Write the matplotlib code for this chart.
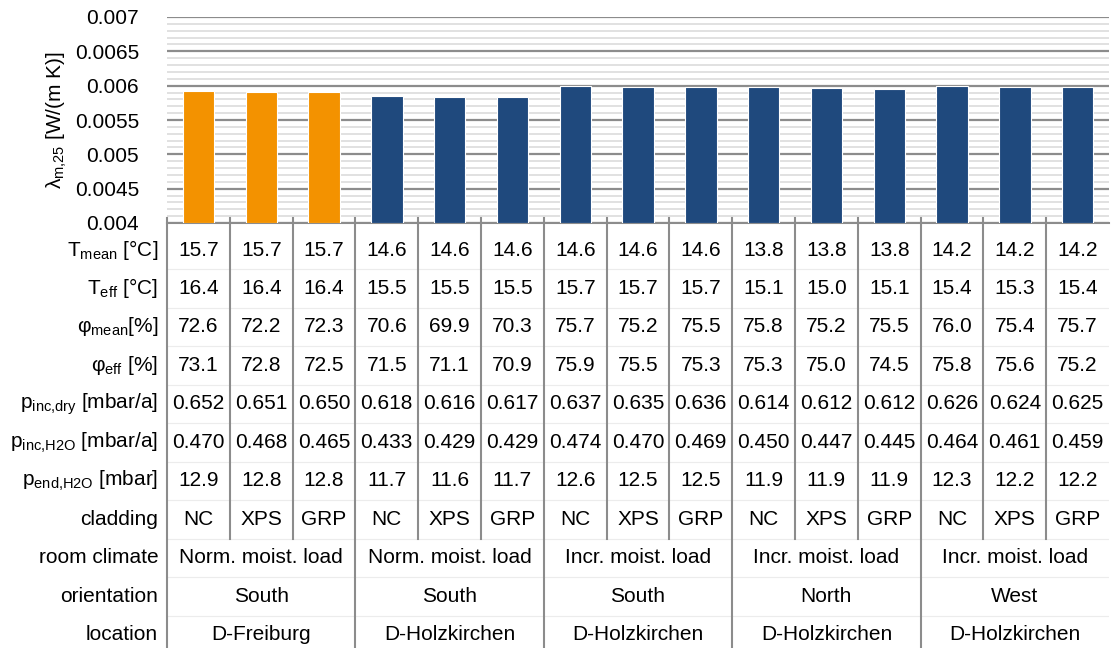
import numpy as np
import matplotlib
matplotlib.use("Agg")
from matplotlib import pyplot as plt

plt.rcParams['font.family'] = ['Liberation Sans', 'DejaVu Sans']
plt.rcParams['mathtext.fontset'] = 'custom'
plt.rcParams['mathtext.rm'] = 'Liberation Sans'
plt.rcParams['mathtext.default'] = 'regular'

# bar heights (lambda_m,25 in W/(m K))
lam = [0.00592, 0.00591, 0.00591, 0.005854, 0.00583, 0.00583, 0.005995, 0.005985, 0.005985,
       0.005976, 0.005966, 0.005952, 0.005995, 0.005985, 0.005985]
highlight = [True, True, True] + [False] * 12

yticks = [0.004, 0.0045, 0.005, 0.0055, 0.006, 0.0065, 0.007]
ytick_labels = ['0.004', '0.0045', '0.005', '0.0055', '0.006', '0.0065', '0.007']

t_mean = ['15.7'] * 3 + ['14.6'] * 6 + ['13.8'] * 3 + ['14.2'] * 3
t_eff = ['16.4', '16.4', '16.4', '15.5', '15.5', '15.5', '15.7', '15.7', '15.7',
         '15.1', '15.0', '15.1', '15.4', '15.3', '15.4']
phi_mean = ['72.6', '72.2', '72.3', '70.6', '69.9', '70.3', '75.7', '75.2', '75.5',
            '75.8', '75.2', '75.5', '76.0', '75.4', '75.7']
phi_eff = ['73.1', '72.8', '72.5', '71.5', '71.1', '70.9', '75.9', '75.5', '75.3',
           '75.3', '75.0', '74.5', '75.8', '75.6', '75.2']
p_inc_dry = ['0.652', '0.651', '0.650', '0.618', '0.616', '0.617', '0.637', '0.635', '0.636',
             '0.614', '0.612', '0.612', '0.626', '0.624', '0.625']
p_inc_h2o = ['0.470', '0.468', '0.465', '0.433', '0.429', '0.429', '0.474', '0.470', '0.469',
             '0.450', '0.447', '0.445', '0.464', '0.461', '0.459']
p_end_h2o = ['12.9', '12.8', '12.8', '11.7', '11.6', '11.7', '12.6', '12.5', '12.5',
             '11.9', '11.9', '11.9', '12.3', '12.2', '12.2']
cladding = ['NC', 'XPS', 'GRP'] * 5

room_climate = ['Norm. moist. load', 'Norm. moist. load', 'Incr. moist. load',
                'Incr. moist. load', 'Incr. moist. load']
orientation = ['South', 'South', 'South', 'North', 'West']
location = ['D-Freiburg', 'D-Holzkirchen', 'D-Holzkirchen', 'D-Holzkirchen', 'D-Holzkirchen']

row_labels = ['T$_{mean}$ [°C]', 'T$_{eff}$ [°C]', 'φ$_{mean}$[%]', 'φ$_{eff}$ [%]',
              'p$_{inc{,}dry}$ [mbar/a]', 'p$_{inc{,}H2O}$ [mbar/a]', 'p$_{end{,}H2O}$ [mbar]',
              'cladding', 'room climate', 'orientation', 'location']

orange = '#f39200'
blue = '#1f497d'
line_c = '#8c8c8c'
fs = 15

W, H = 1111, 648
fig = plt.figure(figsize=(W / 100, H / 100), dpi=100)

# bar chart part
x0, x1 = 167, 1109
ax = fig.add_axes([x0 / W, 1 - 223 / H, (x1 - x0) / W, (223 - 17) / H])
n = len(lam)
xs = np.arange(n) + 0.5
cols = [orange if h else blue for h in highlight]
ax.bar(xs, np.array(lam) - 0.004, bottom=0.004, width=0.5, color=cols,
       edgecolor='white', linewidth=0.8, zorder=3)
ax.set_xlim(0, n)
ax.set_ylim(0.004, 0.007)
ax.set_yticks(yticks)
ax.set_yticklabels(ytick_labels, fontsize=fs)
ax.set_yticks(np.arange(0.0041, 0.007, 0.0001), minor=True)
ax.grid(axis='y', which='minor', color='#d9d9d9', linewidth=1.1, zorder=0)
ax.grid(axis='y', which='major', color='#8c8c8c', linewidth=1.6, zorder=1)
ax.tick_params(axis='y', which='both', length=0, pad=20)
ax.set_xticks([])
for s in ['top', 'right', 'left']:
    ax.spines[s].set_visible(False)
ax.spines['bottom'].set_color(line_c)
ax.spines['bottom'].set_linewidth(1.5)
ax.set_ylabel('λ$_{m{,}25}$ [W/(m K)]', fontsize=fs, labelpad=4)

# table part, y in pixel units of the figure
tb = fig.add_axes([x0 / W, 0, (x1 - x0) / W, (H - 223) / H])
tb.set_xlim(0, n)
tb.set_ylim(H, 223)
tb.axis('off')

y0, dy = 250, 38.5
rows = [t_mean, t_eff, phi_mean, phi_eff, p_inc_dry, p_inc_h2o, p_end_h2o, cladding]
for r, vals in enumerate(rows):
    yc = y0 + r * dy
    for i, v in enumerate(vals):
        tb.text(i + 0.5, yc, v, ha='center', va='center', fontsize=fs)
for r, vals in enumerate([room_climate, orientation, location]):
    yc = y0 + (len(rows) + r) * dy
    for g, v in enumerate(vals):
        tb.text(g * 3 + 1.5, yc, v, ha='center', va='center', fontsize=fs)

for r, lab in enumerate(row_labels):
    tb.text(-0.14, y0 + r * dy, lab, ha='right', va='center', fontsize=fs, clip_on=False)

# row separators
for r in range(len(row_labels) - 1):
    yl = y0 + (r + 0.5) * dy
    tb.plot([0, n], [yl, yl], color='#ececec', linewidth=0.8, zorder=0)

# column separators
y_cl = y0 + (len(rows) - 0.5) * dy
for i in range(0, n):
    y_end = H if i % 3 == 0 else y_cl
    tb.plot([i, i], [218, y_end], color=line_c, linewidth=1.5, clip_on=False)

fig.savefig('out.png', dpi=100)
